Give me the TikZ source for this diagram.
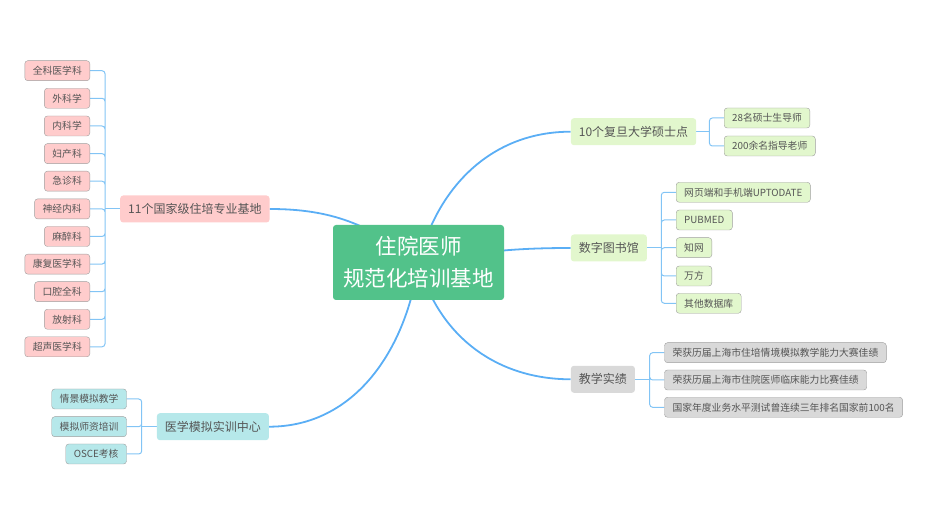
\documentclass[tikz,border=0pt]{standalone}
\usepackage{fontspec}
\setmainfont{Noto Sans CJK SC}
\usetikzlibrary{backgrounds}
\definecolor{hubgreen}{RGB}{82,194,138}
\definecolor{pinkfill}{RGB}{255,204,204}
\definecolor{limefill}{RGB}{226,247,205}
\definecolor{cyanfill}{RGB}{182,232,234}
\definecolor{greyfill}{RGB}{217,217,217}
\definecolor{limbblue}{RGB}{90,174,245}
\definecolor{twigblue}{RGB}{130,196,245}
\definecolor{inkgrey}{RGB}{85,85,85}

\begin{document}
\begin{tikzpicture}[x=1pt,y=-1pt,
    hub/.style={rounded corners=3pt, fill=hubgreen, text=white, align=center,
      font=\fontsize{21.5}{32}\selectfont, minimum width=171pt, minimum height=75pt},
    topic/.style={rounded corners=3pt, text=inkgrey, font=\fontsize{12}{14}\selectfont,
      inner xsep=8pt, minimum height=27pt},
    leaf/.style={rounded corners=3pt, draw=black!38, text=inkgrey,
      font=\fontsize{9.8}{12}\selectfont, inner xsep=8pt, minimum height=20pt},
    limb/.style={draw=limbblue, line width=1.8pt},
    twig/.style={draw=twigblue, line width=1pt}]
  \useasboundingbox (0,0) rectangle (930,526);
  % centre
  \node[hub] (hub) at (418.5,262.5) {住院医师\\规范化培训基地};
  % left: specialities
  \node[topic, fill=pinkfill, anchor=west] (base) at (120,209) {11个国家级住培专业基地};
  \node[leaf, fill=pinkfill, anchor=east] (k1) at (90,70.7) {全科医学科};
  \node[leaf, fill=pinkfill, anchor=east] (k2) at (90,98.3) {外科学};
  \node[leaf, fill=pinkfill, anchor=east] (k3) at (90,126) {内科学};
  \node[leaf, fill=pinkfill, anchor=east] (k4) at (90,153.6) {妇产科};
  \node[leaf, fill=pinkfill, anchor=east] (k5) at (90,181.2) {急诊科};
  \node[leaf, fill=pinkfill, anchor=east] (k6) at (90,208.9) {神经内科};
  \node[leaf, fill=pinkfill, anchor=east] (k7) at (90,236.5) {麻醉科};
  \node[leaf, fill=pinkfill, anchor=east] (k8) at (90,264.1) {康复医学科};
  \node[leaf, fill=pinkfill, anchor=east] (k9) at (90,291.7) {口腔全科};
  \node[leaf, fill=pinkfill, anchor=east] (k10) at (90,319.3) {放射科};
  \node[leaf, fill=pinkfill, anchor=east] (k11) at (90,346.8) {超声医学科};
  \coordinate (kb) at (105,209);
  % left: simulation centre
  \node[topic, fill=cyanfill, anchor=west] (sim) at (156.7,426.7) {医学模拟实训中心};
  \node[leaf, fill=cyanfill, anchor=east] (s1) at (126.7,399) {情景模拟教学};
  \node[leaf, fill=cyanfill, anchor=east] (s2) at (126.7,426.7) {模拟师资培训};
  \node[leaf, fill=cyanfill, anchor=east] (s3) at (126.7,454) {OSCE考核};
  \coordinate (sb) at (141.7,426.7);
  % right: masters
  \node[topic, fill=limefill, anchor=west] (shuo) at (570.7,131.7) {10个复旦大学硕士点};
  \node[leaf, fill=limefill, anchor=west] (m1) at (724,118) {28名硕士生导师};
  \node[leaf, fill=limefill, anchor=west] (m2) at (724,146) {200余名指导老师};
  \coordinate (mb) at (709.4,131.7);
  % right: library
  \node[topic, fill=limefill, anchor=west] (lib) at (570.7,248) {数字图书馆};
  \node[leaf, fill=limefill, anchor=west] (d1) at (676,192.3) {网页端和手机端UPTODATE};
  \node[leaf, fill=limefill, anchor=west] (d2) at (676,220) {PUBMED};
  \node[leaf, fill=limefill, anchor=west] (d3) at (676,247.7) {知网};
  \node[leaf, fill=limefill, anchor=west] (d4) at (676,276) {万方};
  \node[leaf, fill=limefill, anchor=west] (d5) at (676,303.3) {其他数据库};
  \coordinate (db) at (661.3,248);
  % right: teaching results
  \node[topic, fill=greyfill, anchor=west] (teach) at (570.7,379.3) {教学实绩};
  \node[leaf, fill=greyfill, anchor=west] (t1) at (664.3,352.7) {荣获历届上海市住培情境模拟教学能力大赛佳绩};
  \node[leaf, fill=greyfill, anchor=west] (t2) at (664.3,380) {荣获历届上海市住院医师临床能力比赛佳绩};
  \node[leaf, fill=greyfill, anchor=west] (t3) at (664.3,407.3) {国家年度业务水平测试曾连续三年排名国家前100名};
  \coordinate (tb) at (649.7,379.3);
  \begin{scope}[on background layer]
    % main branches
    \draw[limb] (hub.center) to[out=142,in=0] (base.east);
    \draw[limb] (hub.center) to[out=-98,in=0] (sim.east);
    \draw[limb] (hub.center) to[out=76,in=180] (shuo.west);
    \draw[limb] (hub.center) to[out=10,in=180] (lib.west);
    \draw[limb] (hub.center) to[out=-75,in=180] (teach.west);
    % brackets
    \draw[twig] (base.west) -- (kb);
    \draw[twig, rounded corners=3pt] (kb) |- (k1.east) (kb) |- (k2.east) (kb) |- (k3.east)
      (kb) |- (k4.east) (kb) |- (k5.east) (kb) |- (k6.east) (kb) |- (k7.east)
      (kb) |- (k8.east) (kb) |- (k9.east) (kb) |- (k10.east) (kb) |- (k11.east);
    \draw[twig] (sim.west) -- (sb);
    \draw[twig, rounded corners=3pt] (sb) |- (s1.east) (sb) |- (s2.east) (sb) |- (s3.east);
    \draw[twig] (shuo.east) -- (mb);
    \draw[twig, rounded corners=3pt] (mb) |- (m1.west) (mb) |- (m2.west);
    \draw[twig] (lib.east) -- (db);
    \draw[twig, rounded corners=3pt] (db) |- (d1.west) (db) |- (d2.west) (db) |- (d3.west)
      (db) |- (d4.west) (db) |- (d5.west);
    \draw[twig] (teach.east) -- (tb);
    \draw[twig, rounded corners=3pt] (tb) |- (t1.west) (tb) |- (t2.west) (tb) |- (t3.west);
  \end{scope}
\end{tikzpicture}
\end{document}
